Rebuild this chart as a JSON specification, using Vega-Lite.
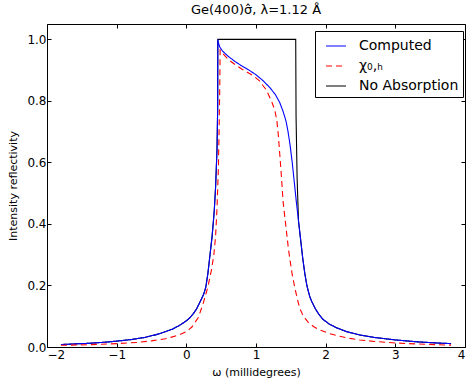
{
  "$schema": "https://vega.github.io/schema/vega-lite/v6.json",
  "width": 418,
  "height": 323,
  "autosize": {"type": "none"},
  "padding": {"left": 47, "top": 24, "right": 2, "bottom": 40},
  "background": "white",
  "config": {
    "font": "DejaVu Sans",
    "view": {"stroke": "black", "strokeWidth": 1},
    "axis": {"domain": false, "grid": false, "tickColor": "black", "tickSize": -4, "labelColor": "black", "labelFontSize": 12, "labelFont": "DejaVu Sans", "titleFont": "DejaVu Sans", "titleFontWeight": "normal", "titleColor": "black", "titleFontSize": 11}
  },
  "title": {"text": "Ge(400)σ̂, λ=1.12 Å", "fontSize": 13, "fontWeight": "normal", "font": "DejaVu Sans", "offset": 7, "color": "black"},
  "datasets": {
    "tails": [
      {"i":0,"omega":-1.8,"R":0.008},
      {"i":1,"omega":-1.6,"R":0.01},
      {"i":2,"omega":-1.4,"R":0.012},
      {"i":3,"omega":-1.2,"R":0.015},
      {"i":4,"omega":-1.0,"R":0.019},
      {"i":5,"omega":-0.8,"R":0.024},
      {"i":6,"omega":-0.6,"R":0.031},
      {"i":7,"omega":-0.4,"R":0.042},
      {"i":8,"omega":-0.3,"R":0.05},
      {"i":9,"omega":-0.2,"R":0.058},
      {"i":10,"omega":-0.1,"R":0.07},
      {"i":11,"omega":0.0,"R":0.085},
      {"i":12,"omega":0.05,"R":0.095},
      {"i":13,"omega":0.1,"R":0.108},
      {"i":14,"omega":0.15,"R":0.125},
      {"i":15,"omega":0.2,"R":0.148},
      {"i":16,"omega":0.25,"R":0.172},
      {"i":17,"omega":0.28,"R":0.195},
      {"i":18,"omega":0.31,"R":0.24},
      {"i":19,"omega":0.34,"R":0.3},
      {"i":20,"omega":0.37,"R":0.36},
      {"i":21,"omega":0.4,"R":0.44},
      {"i":22,"omega":0.42,"R":0.52},
      {"i":23,"omega":0.44,"R":0.64},
      {"i":24,"omega":0.45,"R":0.78},
      {"i":25,"omega":0.452,"R":1.0},
      {"i":26,"omega":1.57,"R":1.0},
      {"i":27,"omega":1.575,"R":0.75},
      {"i":28,"omega":1.59,"R":0.55},
      {"i":29,"omega":1.61,"R":0.41},
      {"i":30,"omega":1.64,"R":0.35},
      {"i":31,"omega":1.67,"R":0.29},
      {"i":32,"omega":1.7,"R":0.24},
      {"i":33,"omega":1.73,"R":0.2},
      {"i":34,"omega":1.77,"R":0.165},
      {"i":35,"omega":1.8,"R":0.148},
      {"i":36,"omega":1.85,"R":0.125},
      {"i":37,"omega":1.9,"R":0.107},
      {"i":38,"omega":1.96,"R":0.09},
      {"i":39,"omega":2.05,"R":0.075},
      {"i":40,"omega":2.15,"R":0.063},
      {"i":41,"omega":2.3,"R":0.05},
      {"i":42,"omega":2.49,"R":0.039},
      {"i":43,"omega":2.7,"R":0.031},
      {"i":44,"omega":3.0,"R":0.023},
      {"i":45,"omega":3.3,"R":0.017},
      {"i":46,"omega":3.6,"R":0.013},
      {"i":47,"omega":3.8,"R":0.011}
    ],
    "curves": [
      {"series":"Computed","i":0,"omega":-1.8,"R":0.008},
      {"series":"Computed","i":1,"omega":-1.6,"R":0.01},
      {"series":"Computed","i":2,"omega":-1.4,"R":0.012},
      {"series":"Computed","i":3,"omega":-1.2,"R":0.015},
      {"series":"Computed","i":4,"omega":-1.0,"R":0.019},
      {"series":"Computed","i":5,"omega":-0.8,"R":0.024},
      {"series":"Computed","i":6,"omega":-0.6,"R":0.031},
      {"series":"Computed","i":7,"omega":-0.4,"R":0.042},
      {"series":"Computed","i":8,"omega":-0.3,"R":0.05},
      {"series":"Computed","i":9,"omega":-0.2,"R":0.058},
      {"series":"Computed","i":10,"omega":-0.1,"R":0.07},
      {"series":"Computed","i":11,"omega":0.0,"R":0.085},
      {"series":"Computed","i":12,"omega":0.05,"R":0.095},
      {"series":"Computed","i":13,"omega":0.1,"R":0.108},
      {"series":"Computed","i":14,"omega":0.15,"R":0.125},
      {"series":"Computed","i":15,"omega":0.2,"R":0.148},
      {"series":"Computed","i":16,"omega":0.25,"R":0.172},
      {"series":"Computed","i":17,"omega":0.28,"R":0.195},
      {"series":"Computed","i":18,"omega":0.31,"R":0.24},
      {"series":"Computed","i":19,"omega":0.34,"R":0.3},
      {"series":"Computed","i":20,"omega":0.37,"R":0.36},
      {"series":"Computed","i":21,"omega":0.4,"R":0.44},
      {"series":"Computed","i":22,"omega":0.42,"R":0.52},
      {"series":"Computed","i":23,"omega":0.44,"R":0.64},
      {"series":"Computed","i":24,"omega":0.45,"R":0.78},
      {"series":"Computed","i":25,"omega":0.452,"R":1.0},
      {"series":"Computed","i":26,"omega":0.46,"R":0.99},
      {"series":"Computed","i":27,"omega":0.48,"R":0.975},
      {"series":"Computed","i":28,"omega":0.52,"R":0.962},
      {"series":"Computed","i":29,"omega":0.6,"R":0.945},
      {"series":"Computed","i":30,"omega":0.7,"R":0.928},
      {"series":"Computed","i":31,"omega":0.8,"R":0.913},
      {"series":"Computed","i":32,"omega":0.9,"R":0.9},
      {"series":"Computed","i":33,"omega":1.0,"R":0.885},
      {"series":"Computed","i":34,"omega":1.1,"R":0.866},
      {"series":"Computed","i":35,"omega":1.2,"R":0.843},
      {"series":"Computed","i":36,"omega":1.28,"R":0.82},
      {"series":"Computed","i":37,"omega":1.34,"R":0.795},
      {"series":"Computed","i":38,"omega":1.39,"R":0.765},
      {"series":"Computed","i":39,"omega":1.43,"R":0.735},
      {"series":"Computed","i":40,"omega":1.46,"R":0.7},
      {"series":"Computed","i":41,"omega":1.49,"R":0.655},
      {"series":"Computed","i":42,"omega":1.52,"R":0.6},
      {"series":"Computed","i":43,"omega":1.55,"R":0.535},
      {"series":"Computed","i":44,"omega":1.58,"R":0.47},
      {"series":"Computed","i":45,"omega":1.61,"R":0.41},
      {"series":"Computed","i":46,"omega":1.64,"R":0.35},
      {"series":"Computed","i":47,"omega":1.67,"R":0.29},
      {"series":"Computed","i":48,"omega":1.7,"R":0.24},
      {"series":"Computed","i":49,"omega":1.73,"R":0.2},
      {"series":"Computed","i":50,"omega":1.77,"R":0.165},
      {"series":"Computed","i":51,"omega":1.8,"R":0.148},
      {"series":"Computed","i":52,"omega":1.85,"R":0.125},
      {"series":"Computed","i":53,"omega":1.9,"R":0.107},
      {"series":"Computed","i":54,"omega":1.96,"R":0.09},
      {"series":"Computed","i":55,"omega":2.05,"R":0.075},
      {"series":"Computed","i":56,"omega":2.15,"R":0.063},
      {"series":"Computed","i":57,"omega":2.3,"R":0.05},
      {"series":"Computed","i":58,"omega":2.49,"R":0.039},
      {"series":"Computed","i":59,"omega":2.7,"R":0.031},
      {"series":"Computed","i":60,"omega":3.0,"R":0.023},
      {"series":"Computed","i":61,"omega":3.3,"R":0.017},
      {"series":"Computed","i":62,"omega":3.6,"R":0.013},
      {"series":"Computed","i":63,"omega":3.8,"R":0.011},
      {"series":"χ₀,ₕ","i":0,"omega":-1.8,"R":0.0055},
      {"series":"χ₀,ₕ","i":1,"omega":-1.4,"R":0.0075},
      {"series":"χ₀,ₕ","i":2,"omega":-1.0,"R":0.011},
      {"series":"χ₀,ₕ","i":3,"omega":-0.7,"R":0.015},
      {"series":"χ₀,ₕ","i":4,"omega":-0.5,"R":0.02},
      {"series":"χ₀,ₕ","i":5,"omega":-0.3,"R":0.027},
      {"series":"χ₀,ₕ","i":6,"omega":-0.2,"R":0.033},
      {"series":"χ₀,ₕ","i":7,"omega":-0.1,"R":0.04},
      {"series":"χ₀,ₕ","i":8,"omega":0.0,"R":0.05},
      {"series":"χ₀,ₕ","i":9,"omega":0.08,"R":0.065},
      {"series":"χ₀,ₕ","i":10,"omega":0.17,"R":0.095},
      {"series":"χ₀,ₕ","i":11,"omega":0.24,"R":0.14},
      {"series":"χ₀,ₕ","i":12,"omega":0.31,"R":0.196},
      {"series":"χ₀,ₕ","i":13,"omega":0.36,"R":0.25},
      {"series":"χ₀,ₕ","i":14,"omega":0.395,"R":0.3},
      {"series":"χ₀,ₕ","i":15,"omega":0.42,"R":0.36},
      {"series":"χ₀,ₕ","i":16,"omega":0.44,"R":0.45},
      {"series":"χ₀,ₕ","i":17,"omega":0.46,"R":0.58},
      {"series":"χ₀,ₕ","i":18,"omega":0.47,"R":0.7},
      {"series":"χ₀,ₕ","i":19,"omega":0.48,"R":0.85},
      {"series":"χ₀,ₕ","i":20,"omega":0.485,"R":0.965},
      {"series":"χ₀,ₕ","i":21,"omega":0.52,"R":0.955},
      {"series":"χ₀,ₕ","i":22,"omega":0.6,"R":0.935},
      {"series":"χ₀,ₕ","i":23,"omega":0.7,"R":0.918},
      {"series":"χ₀,ₕ","i":24,"omega":0.8,"R":0.903},
      {"series":"χ₀,ₕ","i":25,"omega":0.9,"R":0.89},
      {"series":"χ₀,ₕ","i":26,"omega":0.96,"R":0.882},
      {"series":"χ₀,ₕ","i":27,"omega":1.05,"R":0.865},
      {"series":"χ₀,ₕ","i":28,"omega":1.15,"R":0.835},
      {"series":"χ₀,ₕ","i":29,"omega":1.23,"R":0.795},
      {"series":"χ₀,ₕ","i":30,"omega":1.27,"R":0.77},
      {"series":"χ₀,ₕ","i":31,"omega":1.3,"R":0.735},
      {"series":"χ₀,ₕ","i":32,"omega":1.32,"R":0.69},
      {"series":"χ₀,ₕ","i":33,"omega":1.34,"R":0.63},
      {"series":"χ₀,ₕ","i":34,"omega":1.36,"R":0.57},
      {"series":"χ₀,ₕ","i":35,"omega":1.39,"R":0.47},
      {"series":"χ₀,ₕ","i":36,"omega":1.415,"R":0.42},
      {"series":"χ₀,ₕ","i":37,"omega":1.44,"R":0.37},
      {"series":"χ₀,ₕ","i":38,"omega":1.465,"R":0.32},
      {"series":"χ₀,ₕ","i":39,"omega":1.49,"R":0.28},
      {"series":"χ₀,ₕ","i":40,"omega":1.52,"R":0.235},
      {"series":"χ₀,ₕ","i":41,"omega":1.56,"R":0.19},
      {"series":"χ₀,ₕ","i":42,"omega":1.6,"R":0.15},
      {"series":"χ₀,ₕ","i":43,"omega":1.63,"R":0.125},
      {"series":"χ₀,ₕ","i":44,"omega":1.68,"R":0.1},
      {"series":"χ₀,ₕ","i":45,"omega":1.75,"R":0.08},
      {"series":"χ₀,ₕ","i":46,"omega":1.83,"R":0.066},
      {"series":"χ₀,ₕ","i":47,"omega":1.92,"R":0.055},
      {"series":"χ₀,ₕ","i":48,"omega":2.05,"R":0.044},
      {"series":"χ₀,ₕ","i":49,"omega":2.2,"R":0.035},
      {"series":"χ₀,ₕ","i":50,"omega":2.35,"R":0.028},
      {"series":"χ₀,ₕ","i":51,"omega":2.49,"R":0.023},
      {"series":"χ₀,ₕ","i":52,"omega":2.7,"R":0.018},
      {"series":"χ₀,ₕ","i":53,"omega":3.0,"R":0.013},
      {"series":"χ₀,ₕ","i":54,"omega":3.3,"R":0.01},
      {"series":"χ₀,ₕ","i":55,"omega":3.6,"R":0.0075},
      {"series":"χ₀,ₕ","i":56,"omega":3.8,"R":0.006}
    ]
  },
  "layer": [
    {
      "data": {"name": "tails"},
      "transform": [{"calculate": "'No Absorption'", "as": "series"}],
      "mark": {"type": "line", "strokeWidth": 1.1},
      "encoding": {
        "x": {"field": "omega", "type": "quantitative", "scale": {"domain": [-2, 4], "nice": false, "zero": false},
              "axis": {"values": [-2, -1, 0, 1, 2, 3, 4], "format": "d", "title": "ω (millidegrees)", "titlePadding": 6, "labelPadding": 6}},
        "y": {"field": "R", "type": "quantitative", "scale": {"domain": [0, 1.05], "nice": false},
              "axis": {"values": [0, 0.2, 0.4, 0.6, 0.8, 1.0], "format": ".1f", "title": "Intensity reflectivity", "titlePadding": 8, "labelPadding": 5}},
        "color": {"field": "series", "type": "nominal",
                  "scale": {"domain": ["Computed", "χ₀,ₕ", "No Absorption"], "range": ["#0000ff", "#ff0000", "#000000"]},
                  "legend": {"orient": "none", "legendX": 268, "legendY": 7, "title": null, "symbolType": "stroke", "symbolSize": 400, "symbolStrokeWidth": 1.1, "symbolOffset": 6, "labelFontSize": 14, "labelFont": "DejaVu Sans", "labelColor": "black", "labelOffset": 12, "rowPadding": 2, "padding": 4, "strokeColor": "black", "fillColor": "white", "labelLimit": 200}},
        "strokeDash": {"field": "series", "type": "nominal",
                  "scale": {"domain": ["Computed", "χ₀,ₕ", "No Absorption"], "range": [[1, 0], [6, 4], [1, 0]]},
                  "legend": null},
        "order": {"field": "i", "type": "quantitative"}
      }
    },
    {
      "data": {"name": "curves"},
      "mark": {"type": "line", "strokeWidth": 1.1},
      "encoding": {
        "x": {"field": "omega", "type": "quantitative", "scale": {"domain": [-2, 4], "nice": false, "zero": false}, "axis": null},
        "y": {"field": "R", "type": "quantitative", "scale": {"domain": [0, 1.05], "nice": false}, "axis": null},
        "color": {"field": "series", "type": "nominal",
                  "scale": {"domain": ["Computed", "χ₀,ₕ", "No Absorption"], "range": ["#0000ff", "#ff0000", "#000000"]}},
        "strokeDash": {"field": "series", "type": "nominal",
                  "scale": {"domain": ["Computed", "χ₀,ₕ", "No Absorption"], "range": [[1, 0], [6, 4], [1, 0]]},
                  "legend": null},
        "order": {"field": "i", "type": "quantitative"}
      }
    },
    {
      "data": {"name": "curves"},
      "mark": {"type": "point", "opacity": 0},
      "encoding": {
        "x": {"field": "omega", "type": "quantitative", "scale": {"domain": [-2, 4], "nice": false, "zero": false},
              "axis": {"orient": "top", "values": [-2, -1, 0, 1, 2, 3, 4], "labels": false, "title": null}},
        "y": {"field": "R", "type": "quantitative", "scale": {"domain": [0, 1.05], "nice": false},
              "axis": {"orient": "right", "values": [0, 0.2, 0.4, 0.6, 0.8, 1.0], "labels": false, "title": null}}
      }
    }
  ],
  "resolve": {"axis": {"x": "independent", "y": "independent"}}
}
